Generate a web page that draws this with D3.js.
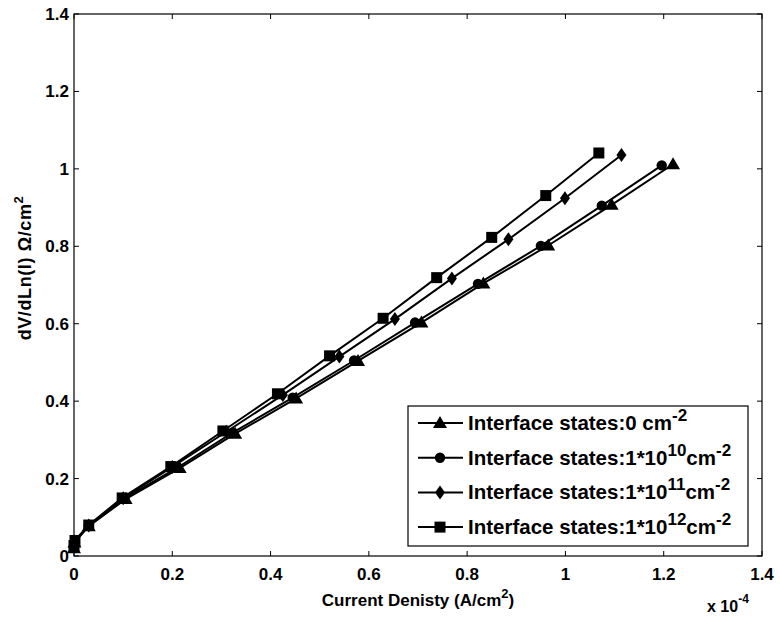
<!DOCTYPE html>
<html>
<head>
<meta charset="utf-8">
<script src="https://cdn.jsdelivr.net/npm/d3@7"></script>
<style>
  body { margin: 0; background: #fff; }
  text { font-family: "Liberation Sans", Arial, sans-serif; font-weight: bold; fill: #000; }
</style>
</head>
<body>
<script>
// data (x in units of 1e-4 A/cm^2)
var xTri = [0, 0.001, 0.03, 0.105, 0.215, 0.328, 0.452, 0.578, 0.707, 0.833, 0.965, 1.094, 1.219];
var yTri = [0.02, 0.035, 0.077, 0.147, 0.227, 0.316, 0.407, 0.504, 0.603, 0.704, 0.802, 0.907, 1.012];
var xCir = [0, 0.001, 0.03, 0.103, 0.21, 0.322, 0.445, 0.57, 0.694, 0.822, 0.95, 1.074, 1.196];
var yCir = [0.022, 0.036, 0.078, 0.148, 0.228, 0.318, 0.409, 0.505, 0.603, 0.703, 0.801, 0.905, 1.009];
var xDia = [0, 0.001, 0.03, 0.1, 0.2, 0.31, 0.425, 0.54, 0.653, 0.769, 0.884, 0.999, 1.114];
var yDia = [0.025, 0.038, 0.079, 0.149, 0.23, 0.321, 0.416, 0.515, 0.612, 0.717, 0.818, 0.924, 1.036];
var xSq = [0, 0.002, 0.03, 0.098, 0.197, 0.303, 0.414, 0.52, 0.629, 0.738, 0.85, 0.96, 1.068];
var ySq = [0.027, 0.04, 0.08, 0.15, 0.231, 0.323, 0.419, 0.517, 0.614, 0.719, 0.823, 0.931, 1.041];
var xTicks = [0, 0.2, 0.4, 0.6, 0.8, 1, 1.2, 1.4];
var yTicks = [0, 0.2, 0.4, 0.6, 0.8, 1, 1.2, 1.4];
var legendExp = ["0 ", "1*10", "1*10", "1*10"];
var legendSup = ["", "10", "11", "12"];

var pLeft = 74, pRight = 762, pTop = 14, pBottom = 556;

var svg = d3.select("body").append("svg")
   .attr("width", 780)
   .attr("height", 624);

var x = d3.scaleLinear().domain([0, 1.4]).range([pLeft, pRight]);
var y = d3.scaleLinear().domain([0, 1.4]).range([pBottom, pTop]);

// markers
function marker(g, kind, cx, cy) {
   if (kind === "tri") {
      g.append("path").attr("d", "M" + cx + "," + (cy - 7) + "L" + (cx + 7) + "," + (cy + 5) + "L" + (cx - 7) + "," + (cy + 5) + "Z")
         .style("fill", "#000");
   } else if (kind === "cir") {
      g.append("circle").attr("cx", cx).attr("cy", cy).attr("r", 5.2).style("fill", "#000");
   } else if (kind === "dia") {
      g.append("path").attr("d", "M" + cx + "," + (cy - 7) + "L" + (cx + 5) + "," + cy + "L" + cx + "," + (cy + 7) + "L" + (cx - 5) + "," + cy + "Z")
         .style("fill", "#000");
   } else {
      g.append("rect").attr("x", cx - 5.5).attr("y", cy - 5.5).attr("width", 11).attr("height", 11)
         .style("fill", "#000");
   }
}

var series = [
   {kind: "tri", xs: xTri, ys: yTri},
   {kind: "cir", xs: xCir, ys: yCir},
   {kind: "dia", xs: xDia, ys: yDia},
   {kind: "sq", xs: xSq, ys: ySq}
];

var line = d3.line().x(function (d) { return x(d[0]); }).y(function (d) { return y(d[1]); });

series.forEach(function (s) {
   var pts = d3.zip(s.xs, s.ys);
   var g = svg.append("g");
   g.append("path").attr("d", line(pts))
      .style("fill", "none").style("stroke", "#000").style("stroke-width", 2);
   pts.forEach(function (p) { marker(g, s.kind, x(p[0]), y(p[1])); });
});

// box
svg.append("rect")
   .attr("x", pLeft).attr("y", pTop)
   .attr("width", pRight - pLeft).attr("height", pBottom - pTop)
   .style("fill", "none").style("stroke", "#000").style("stroke-width", 1.2);

// ticks (inward, all four sides)
var tl = 5;
xTicks.forEach(function (t) {
   svg.append("line").attr("x1", x(t)).attr("x2", x(t)).attr("y1", pBottom).attr("y2", pBottom - tl)
      .style("stroke", "#000");
   svg.append("line").attr("x1", x(t)).attr("x2", x(t)).attr("y1", pTop).attr("y2", pTop + tl)
      .style("stroke", "#000");
   svg.append("text").attr("x", x(t)).attr("y", pBottom + 24)
      .attr("text-anchor", "middle").style("font-size", "17px").text(t);
});
yTicks.forEach(function (t) {
   svg.append("line").attr("x1", pLeft).attr("x2", pLeft + tl).attr("y1", y(t)).attr("y2", y(t))
      .style("stroke", "#000");
   svg.append("line").attr("x1", pRight).attr("x2", pRight - tl).attr("y1", y(t)).attr("y2", y(t))
      .style("stroke", "#000");
   svg.append("text").attr("x", pLeft - 5).attr("y", y(t) + 6)
      .attr("text-anchor", "end").style("font-size", "17px").text(t);
});

// multiplier
var mult = svg.append("text").attr("x", 707).attr("y", 612).style("font-size", "16px");
mult.append("tspan").text("x 10");
mult.append("tspan").attr("dy", -9).style("font-size", "12px").text("-4");

// axis labels
var xl = svg.append("text").attr("x", 418).attr("y", 606).attr("text-anchor", "middle")
   .style("font-size", "17px");
xl.append("tspan").text("Current Denisty (A/cm");
xl.append("tspan").attr("dy", -8).style("font-size", "13px").text("2");
xl.append("tspan").attr("dy", 8).text(")");

var yl = svg.append("text").attr("transform", "translate(31,268) rotate(-90)")
   .attr("text-anchor", "middle").style("font-size", "18px").style("letter-spacing", "0.6px");
yl.append("tspan").text("dV/dLn(I) \u03A9/cm");
yl.append("tspan").attr("dy", -8).style("font-size", "13px").text("2");

// legend
var lg = svg.append("g");
lg.append("rect").attr("x", 408).attr("y", 406).attr("width", 340).attr("height", 140)
   .style("fill", "#fff").style("stroke", "#000").style("stroke-width", 1.2);
series.forEach(function (s, i) {
   var ly = 423 + i * 34.7;
   lg.append("line").attr("x1", 418).attr("x2", 463).attr("y1", ly).attr("y2", ly)
      .style("stroke", "#000").style("stroke-width", 2);
   marker(lg, s.kind, 440, ly);
   var t = lg.append("text").attr("x", 468).attr("y", ly + 7).style("font-size", "20.5px");
   t.append("tspan").text("Interface states:" + legendExp[i]);
   if (legendSup[i]) {
      t.append("tspan").attr("dy", -9).style("font-size", "17px").text(legendSup[i]);
      t.append("tspan").attr("dy", 9).text("cm");
   } else {
      t.append("tspan").text("cm");
   }
   t.append("tspan").attr("dy", -9).style("font-size", "17px").text("-2");
});
</script>
</body>
</html>
